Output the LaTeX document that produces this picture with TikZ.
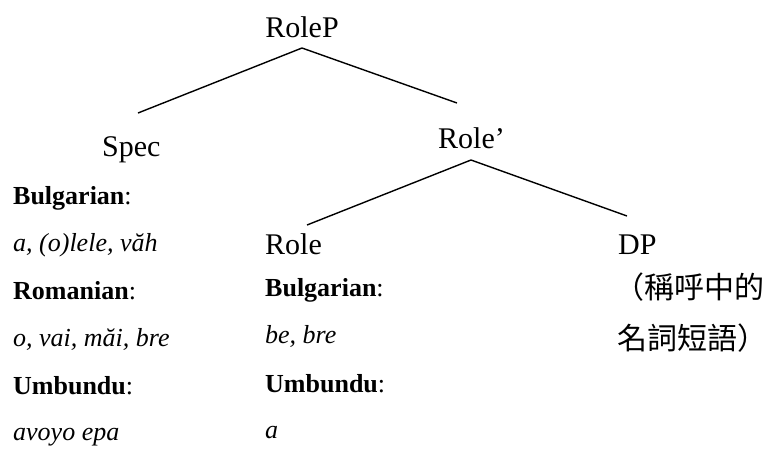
\documentclass[tikz,border=0pt]{standalone}
\usepackage{fontspec}
\setmainfont{Liberation Serif}
\newfontfamily\cjkfont{Noto Sans CJK TC}
\tikzset{
  big/.style={inner sep=0pt, font=\fontsize{30}{36}\selectfont},
  small/.style={inner sep=0pt, anchor=base west, font=\fontsize{26}{30}\selectfont},
  cjk/.style={inner sep=0pt, anchor=base west, font=\cjkfont\fontsize{30}{36}\selectfont},
  branch/.style={line width=1.4pt}
}
\begin{document}
\begin{tikzpicture}[x=1pt,y=-1pt]
\useasboundingbox (0,0) rectangle (779,451);
% tree labels
\node[big, anchor=base] (rolep) at (302,37) {RoleP};
\node[big, anchor=base west] (spec) at (102,156) {Spec};
\node[big, anchor=base west] (rolebar) at (438,148) {Role’};
\node[big, anchor=base west] (role) at (265,254) {Role};
\node[big, anchor=base west] (dp) at (618,254) {DP};
% branch points
\coordinate (rolepapex) at (302,48);
\coordinate (specend) at (138,113);
\coordinate (rolebarend) at (457,103);
\coordinate (rolebarapex) at (471,160);
\coordinate (roleend) at (307,225);
\coordinate (dpend) at (627,216);
\draw[branch] (specend) -- (rolepapex) -- (rolebarend);
\draw[branch] (roleend) -- (rolebarapex) -- (dpend);
% Spec column
\node[small] (sbg) at (13,204) {\textbf{Bulgarian}:};
\node[small] (sbgw) at (13,251) {\textit{a, (o)lele, văh}};
\node[small] (sro) at (13,299) {\textbf{Romanian}:};
\node[small] (srow) at (13,346) {\textit{o, vai, măi, bre}};
\node[small] (sum) at (13,394) {\textbf{Umbundu}:};
\node[small] (sumw) at (13,440) {\textit{avoyo epa}};
% Role column
\node[small] (rbg) at (265,296) {\textbf{Bulgarian}:};
\node[small] (rbgw) at (265,343) {\textit{be, bre}};
\node[small] (rum) at (265,392) {\textbf{Umbundu}:};
\node[small] (rumw) at (265,438) {\textit{a}};
% DP gloss
\node[cjk] (dpg1) at (614,298) {（稱呼中的};
\node[cjk] (dpg2) at (617,349) {名詞短語）};
\end{tikzpicture}
\end{document}
